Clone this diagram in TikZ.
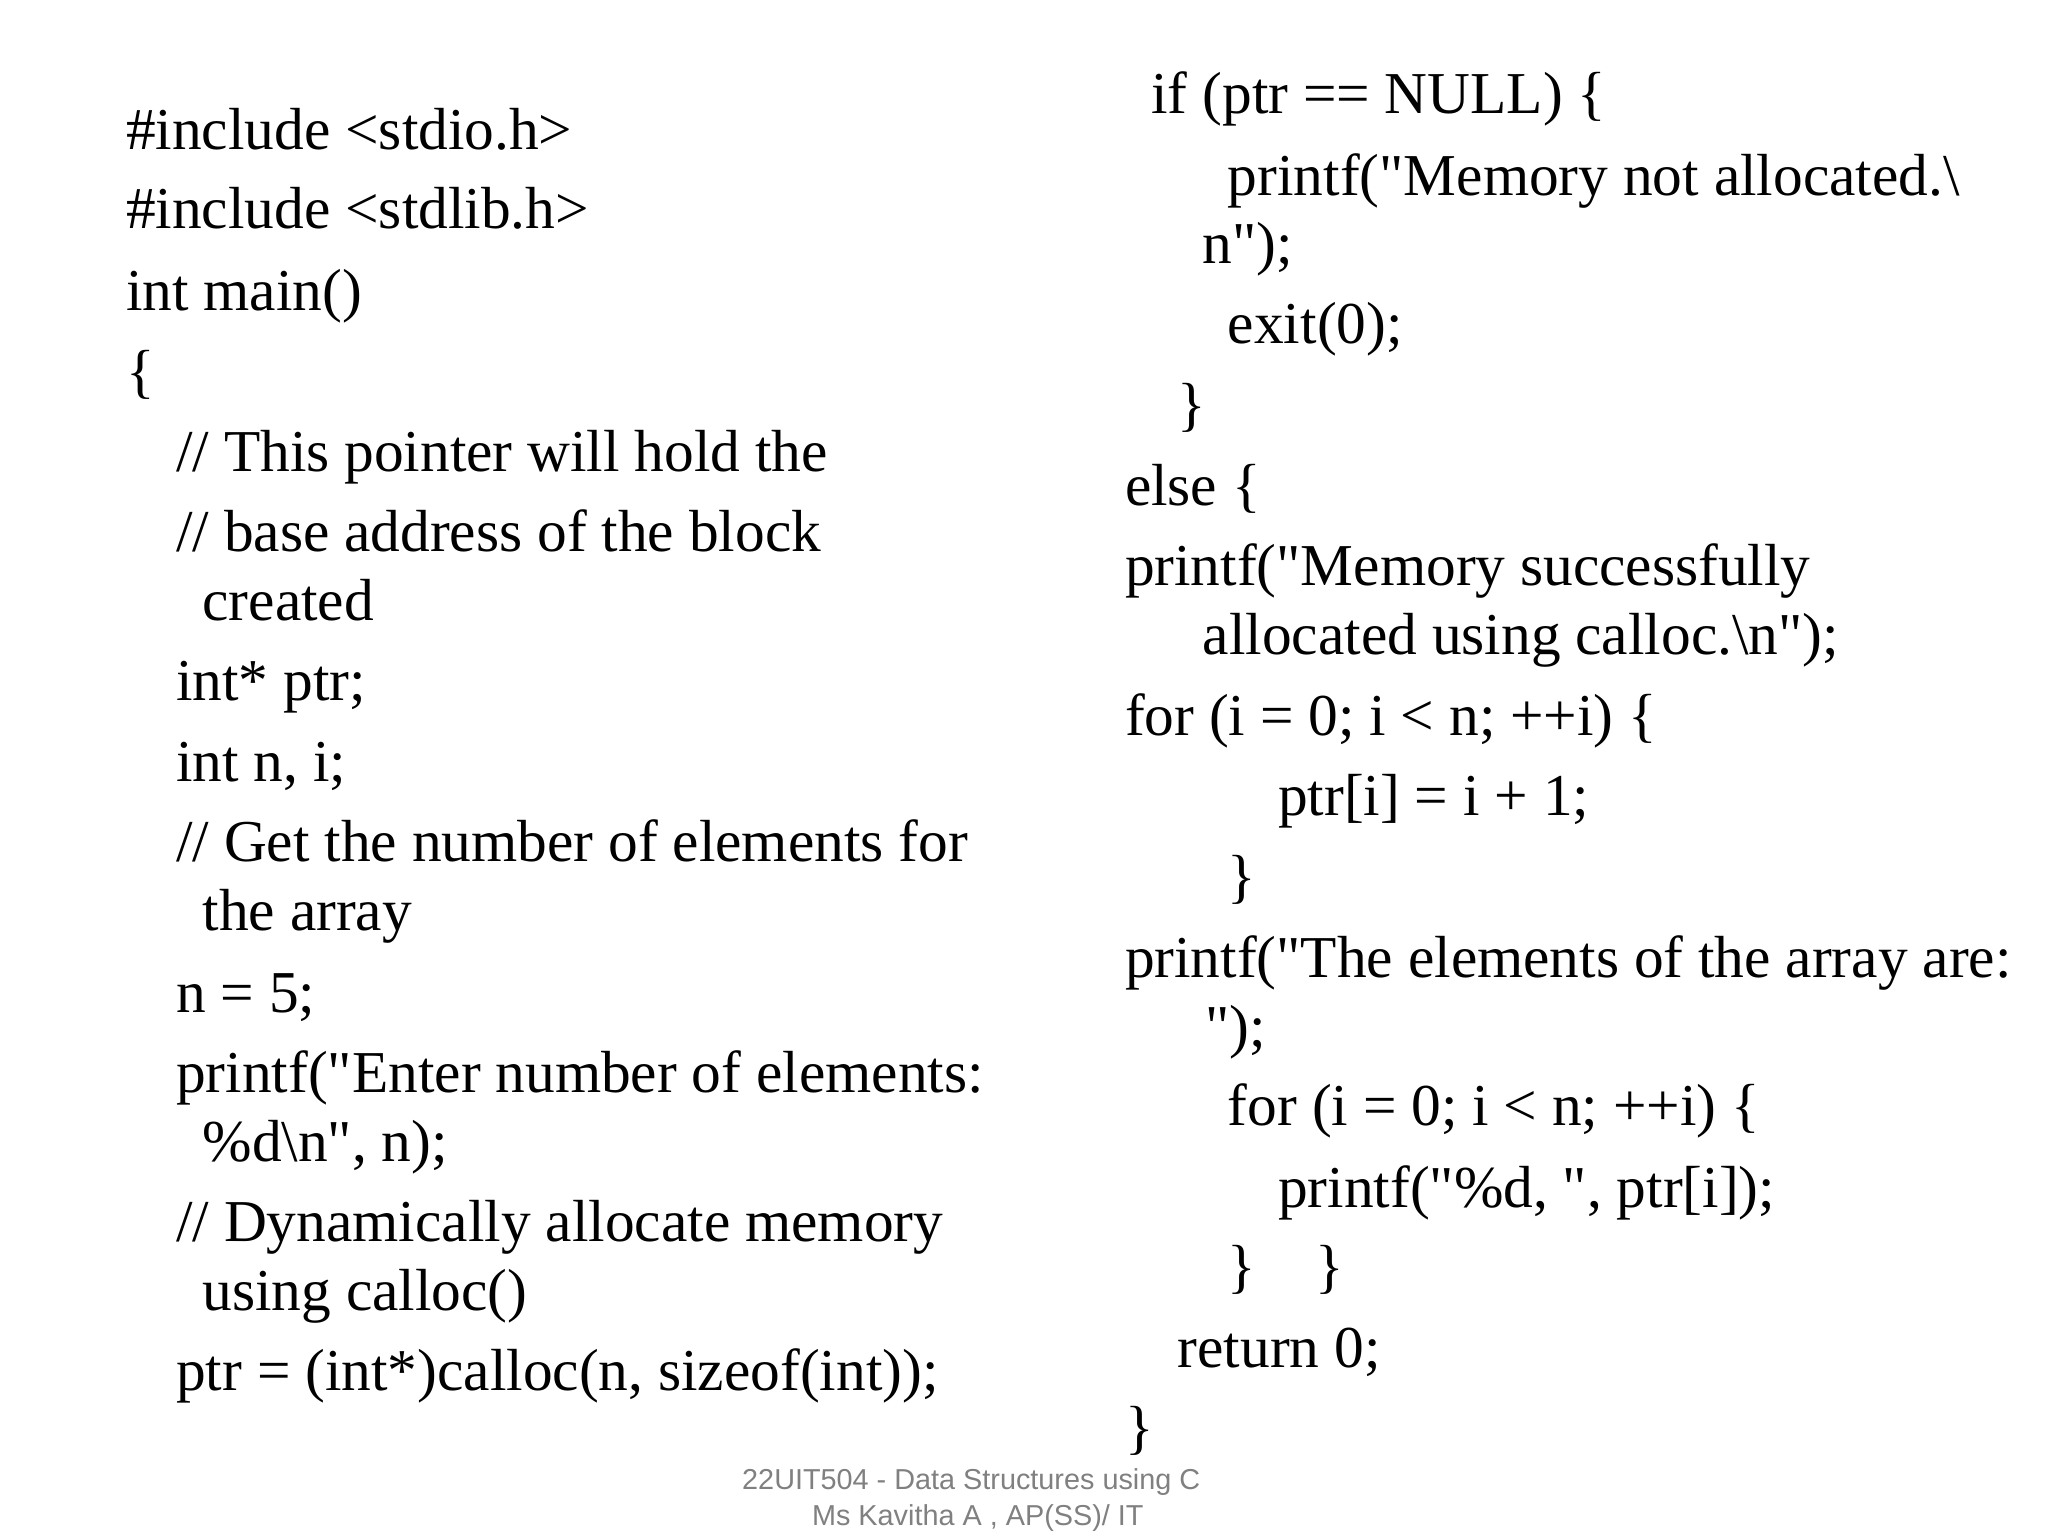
\documentclass[tikz,border=0pt]{standalone}
\usepackage{fontspec}
\setmainfont{Liberation Serif}[Ligatures=TeXOff]
\newfontfamily\footfont{Liberation Sans}
\usetikzlibrary{positioning}
\tikzset{code line/.style={anchor=base west,inner sep=0pt,font=\fontsize{16.9}{20}\selectfont},
         foot line/.style={anchor=center,inner sep=0pt,text=gray,font=\footfont\fontsize{8.2}{10}\selectfont}}
\begin{document}
\begin{tikzpicture}[x=0.013196cm,y=-0.013196cm]
  \useasboundingbox (0,0) rectangle (1552,1164);

  % left column
  \node[code line] (l1) at (95,113) {\#include <stdio.h>};
  \node[code line] (l2) at (95,173) {\#include <stdlib.h>};
  \node[code line] (l3) at (95,235) {int main()};
  \node[code line] (l4) at (95,297) {\{};
  \node[code line] (l5) at (133,357) {// This pointer will hold the};
  \node[code line] (l6) at (133,418) {// base address of the block};
  \node[code line] (l7) at (153,470) {created};
  \node[code line] (l8) at (133,531) {int* ptr;};
  \node[code line] (l9) at (133,592) {int n, i;};
  \node[code line] (l10) at (133,653) {// Get the number of elements for};
  \node[code line] (l11) at (153,705) {the array};
  \node[code line] (l12) at (133,767) {n = 5;};
  \node[code line] (l13) at (133,828) {printf("Enter number of elements:};
  \node[code line] (l14) at (153,880) {\%d\textbackslash n", n);};
  \node[code line] (l15) at (133,941) {// Dynamically allocate memory};
  \node[code line] (l16) at (153,993) {using calloc()};
  \node[code line] (l17) at (133,1054) {ptr = (int*)calloc(n, sizeof(int));};

  % right column
  \node[code line] (r1) at (872,86) {if (ptr == NULL) \{};
  \node[code line] (r2) at (930,148) {printf("Memory not allocated.\textbackslash};
  \node[code line] (r3) at (911,200) {n");};
  \node[code line] (r4) at (930,260) {exit(0);};
  \node[code line] (r5) at (892,322) {\}};
  \node[code line] (r6) at (852,383) {else \{};
  \node[code line] (r7) at (852,444) {printf("Memory successfully};
  \node[code line] (r8) at (911,496) {allocated using calloc.\textbackslash n");};
  \node[code line] (r9) at (852,557) {for (i = 0; i < n; ++i) \{};
  \node[code line] (r10) at (968,618) {ptr[i] = i + 1;};
  \node[code line] (r11) at (930,679) {\}};
  \node[code line] (r12) at (852,741) {printf("The elements of the array are:};
  \node[code line] (r13) at (913,793) {");};
  \node[code line] (r14) at (930,853) {for (i = 0; i < n; ++i) \{};
  \node[code line] (r15) at (968,915) {printf("\%d, ", ptr[i]);};
  \node[code line] (r16) at (930,975) {\}\quad\}};
  \node[code line] (r17) at (892,1036) {return 0;};
  \node[code line] (r18) at (852,1097) {\}};

  % footer
  \node[foot line] (f1) at (736,1123) {22UIT504 - Data Structures using C};
  \node[foot line] (f2) at (741,1150) {Ms Kavitha A , AP(SS)/ IT};
\end{tikzpicture}
\end{document}
